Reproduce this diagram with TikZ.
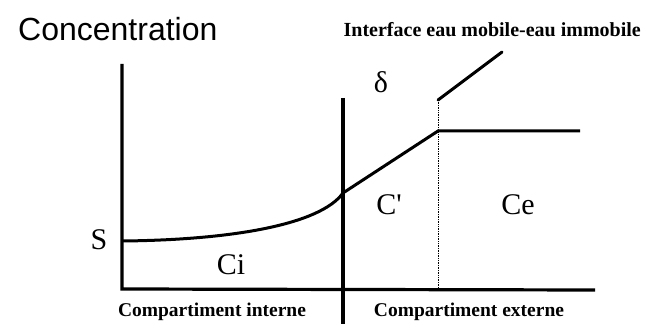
\documentclass[tikz,border=0pt]{standalone}
\usepackage{fontspec}
\setmainfont{Liberation Serif}
\newfontfamily\labsans{Liberation Sans}
\begin{document}
\begin{tikzpicture}[x=1pt,y=-1pt,
  axis/.style={line width=3.2pt},
  curve/.style={line width=3pt},
  big/.style={inner sep=0pt,font=\fontsize{30}{30}\selectfont},
  complabel/.style={inner sep=0pt,font=\bfseries\fontsize{19.5}{19.5}\selectfont}]
\useasboundingbox (0,0) rectangle (646,329);
% coordinates
\coordinate (ytop) at (122,64);
\coordinate (orig) at (122,289);
\coordinate (xend) at (595,290);
\coordinate (mtop) at (343,98);
\coordinate (mbot) at (343,324);
\coordinate (s0) at (122,241);
\coordinate (s1) at (343,193);
\coordinate (k) at (438,131);
\coordinate (kend) at (580,131);
\coordinate (dtop) at (438,100);
\coordinate (dbot) at (438,289);
\coordinate (itop) at (502,52);
% axes
\draw[axis] (ytop) -- (orig) -- (xend);
\draw[axis] (mtop) -- (mbot);
% profile
\draw[curve] (s0) .. controls (230,240) and (320,225) .. (s1) -- (k) -- (kend);
\draw[densely dotted, line width=0.7pt] (dtop) -- (dbot);
\draw[curve, line cap=round] (dtop) -- (itop);
% labels
\node[inner sep=0pt, anchor=west, font=\labsans\fontsize{32}{32}\selectfont] (conc) at (18,29) {Concentration};
\node[inner sep=0pt, anchor=east, font=\bfseries\fontsize{20}{20}\selectfont] (iface) at (641,30) {Interface eau mobile-eau immobile};
\node[big] (S) at (99,240) {S};
\node[big] (Ci) at (231,265) {Ci};
\node[big] (Cp) at (389,205) {C\textquotesingle};
\node[big] (Ce) at (518,205) {Ce};
\node[big] (delta) at (381,82) {δ};
\node[complabel] (cint) at (212,312) {Compartiment interne};
\node[complabel] (cext) at (469,312) {Compartiment externe};
\end{tikzpicture}
\end{document}
